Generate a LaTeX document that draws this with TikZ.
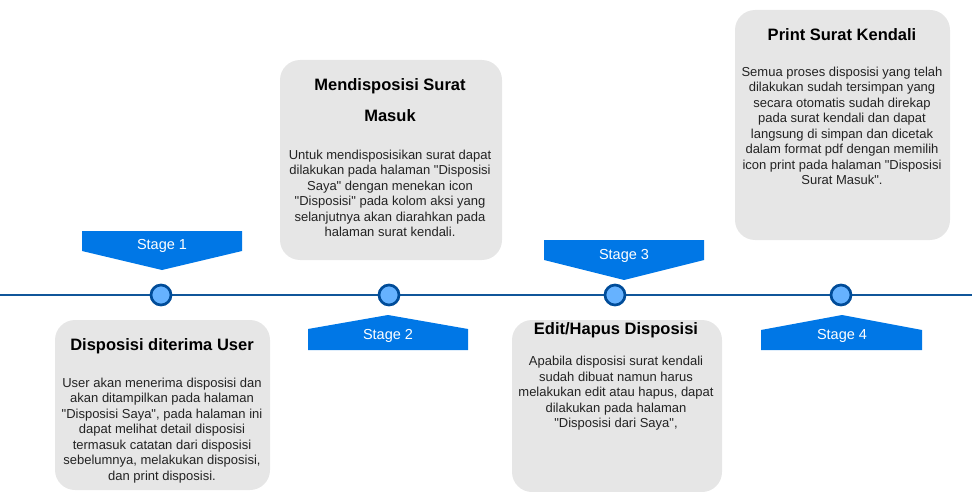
\documentclass[tikz,border=0pt]{standalone}
\usepackage{fontspec}
\setmainfont{Liberation Sans}
\definecolor{stageblue}{RGB}{0,119,230}
\definecolor{linecol}{RGB}{16,86,154}
\definecolor{dotfill}{RGB}{102,178,255}
\definecolor{dotdraw}{RGB}{0,76,153}
\definecolor{boxfill}{RGB}{230,230,230}
\definecolor{txt}{RGB}{35,35,35}
\newcommand{\qq}{\textquotedbl}
\begin{document}
\begin{tikzpicture}[x=1pt,y=-1pt,
  card/.style={fill=boxfill, draw=none, rounded corners=20pt, inner sep=0pt},
  banner/.style={fill=stageblue, draw=none},
  stagetext/.style={text=white, inner sep=0pt, font=\fontsize{14.5}{17}\selectfont},
  title/.style={text=black, inner sep=0pt, align=center, font=\fontsize{16.5}{31}\selectfont\bfseries},
  body/.style={text=txt, inner sep=0pt, align=center, font=\fontsize{13}{15.5}\selectfont},
  dot/.style={circle, fill=dotfill, draw=dotdraw, line width=2.7pt, minimum size=20pt, inner sep=0pt},
  timeline/.style={draw=linecol, line width=2pt}]
\useasboundingbox (0,0) rectangle (972,492);

% cards
\node[card, minimum width=215pt, minimum height=170pt] (c1) at (162.5,405) {};
\node[card, minimum width=222pt, minimum height=200pt] (c2) at (391,160) {};
\node[card, minimum width=210pt, minimum height=172pt] (c3) at (617,406) {};
\node[card, minimum width=215pt, minimum height=230pt] (c4) at (842.5,125) {};

% timeline
\coordinate (tl) at (0,295);
\coordinate (tr) at (972,295);
\draw[timeline] (tl) -- (tr);
\node[dot] (d1) at (161,295) {};
\node[dot] (d2) at (389,295) {};
\node[dot] (d3) at (615,295) {};
\node[dot] (d4) at (841,295) {};

% banners
\fill[banner] (82,231) -- (242,231) -- (242,251) -- (162,270) -- (82,251) -- cycle;
\node[stagetext] (s1) at (162,245.5) {Stage 1};
\fill[banner] (308,350) -- (308,329) -- (388,315) -- (468,329) -- (468,350) -- cycle;
\node[stagetext] (s2) at (388,336) {Stage 2};
\fill[banner] (544,240) -- (704,240) -- (704,260) -- (624,280) -- (544,260) -- cycle;
\node[stagetext] (s3) at (624,256) {Stage 3};
\fill[banner] (761,350) -- (761,330) -- (842,315) -- (922,330) -- (922,350) -- cycle;
\node[stagetext] (s4) at (842,336) {Stage 4};

% card texts
\node[title] (t1) at (162,346) {Disposisi diterima User};
\node[body] (b1) at (162,430.5) {User akan menerima disposisi dan\\akan ditampilkan pada halaman\\\qq Disposisi Saya\qq, pada halaman ini\\dapat melihat detail disposisi\\termasuk catatan dari disposisi\\sebelumnya, melakukan disposisi,\\dan print disposisi.};

\node[title] (t2) at (390,100.5) {Mendisposisi Surat\\Masuk};
\node[body] (b2) at (390,193.5) {Untuk mendisposisikan surat dapat\\dilakukan pada halaman \qq Disposisi\\Saya\qq{} dengan menekan icon\\\qq Disposisi\qq{} pada kolom aksi yang\\selanjutnya akan diarahkan pada\\halaman surat kendali.};

\node[title] (t3) at (616,330) {Edit/Hapus Disposisi};
\node[body] (b3) at (616,393.5) {Apabila disposisi surat kendali\\sudah dibuat namun harus\\melakukan edit atau hapus, dapat\\dilakukan pada halaman\\\qq Disposisi dari Saya\qq,};

\node[title] (t4) at (842,35) {Print Surat Kendali};
\node[body] (b4) at (842,126) {Semua proses disposisi yang telah\\dilakukan sudah tersimpan yang\\secara otomatis sudah direkap\\pada surat kendali dan dapat\\langsung di simpan dan dicetak\\dalam format pdf dengan memilih\\icon print pada halaman \qq Disposisi\\Surat Masuk\qq.};
\end{tikzpicture}
\end{document}
